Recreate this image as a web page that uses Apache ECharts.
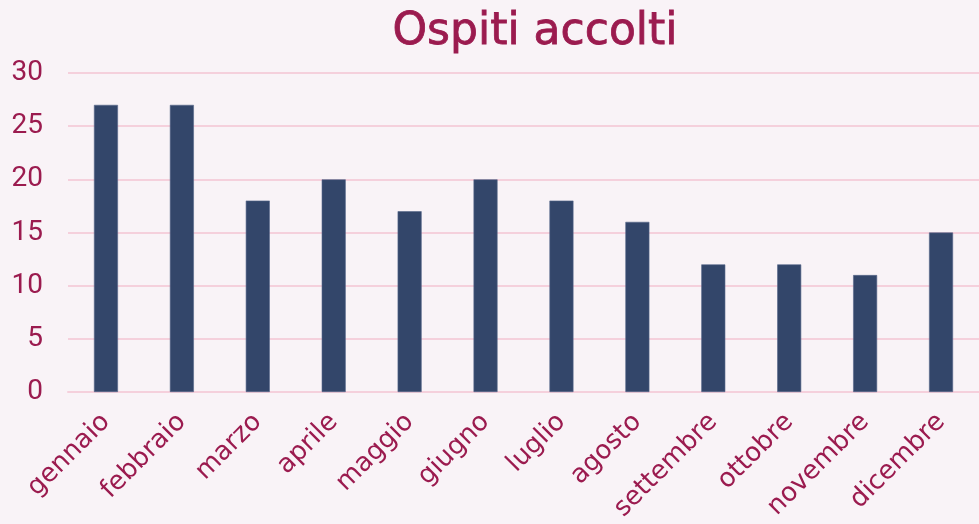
<!DOCTYPE html>
<html>
<head>
<meta charset="utf-8">
<style>
  html, body { margin: 0; padding: 0; background: #f9f3f7; }
  #chart { width: 979px; height: 524px; }
</style>
<script src="https://cdn.jsdelivr.net/npm/echarts@6/dist/echarts.min.js"></script>
</head>
<body>
<div id="chart"></div>
<script>
// dati del grafico
const mesi = ["gennaio", "febbraio", "marzo", "aprile", "maggio", "giugno",
  "luglio", "agosto", "settembre", "ottobre", "novembre", "dicembre"];
const ospiti = [27, 27, 18, 20, 17, 20, 18, 16, 12, 12, 11, 15];
const titolo = "Ospiti accolti";

const testo = "#9b1b4f";
const chart = echarts.init(document.getElementById("chart"));

chart.setOption({
  backgroundColor: "#f9f3f7",
  animation: false,
  title: {
    text: titolo,
    left: 530, top: 6,
    textAlign: "center",
    textStyle: { color: testo, fontSize: 44, fontWeight: "normal", fontFamily: "DejaVu Sans",
      textBorderColor: testo, textBorderWidth: 0.8 }
  },
  grid: { left: 68, right: 0, top: 73, bottom: 131 },
  xAxis: {
    type: "category",
    data: mesi,
    axisLine: { lineStyle: { color: "#f5d0dc", width: 2 } },
    axisTick: { show: false },
    axisLabel: {
      rotate: 45, margin: 26, color: testo, fontSize: 26, fontFamily: "DejaVu Sans",
      interval: 0
    }
  },
  yAxis: {
    type: "value",
    min: 0, max: 30, interval: 5,
    axisLine: { show: false },
    axisTick: { show: false },
    splitLine: { lineStyle: { color: "#f5d0dc", width: 2 } },
    axisLabel: { margin: 25, color: testo, fontSize: 28, fontFamily: "Roboto" }
  },
  series: [{
    type: "bar",
    data: ospiti,
    barWidth: 24,
    itemStyle: { color: "#33466a", borderColor: "#56678a", borderWidth: 0.6 }
  }]
});
</script>
</body>
</html>
